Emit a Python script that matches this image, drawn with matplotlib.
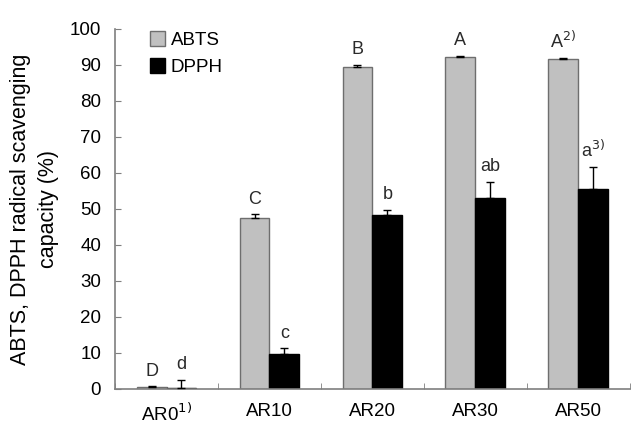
import matplotlib.pyplot as plt
import numpy as np

plt.rcParams['font.family'] = ['Liberation Sans', 'DejaVu Sans']

# data
groups = ['AR0$^{1)}$', 'AR10', 'AR20', 'AR30', 'AR50']
abts = [0.5, 47.5, 89.5, 92.3, 91.6]
abts_err = [0.3, 1.0, 0.5, 0.3, 0.3]
dpph = [0.3, 9.8, 48.3, 53.0, 55.5]
dpph_err = [2.3, 1.5, 1.5, 4.5, 6.0]
abts_letters = ['D', 'C', 'B', 'A', 'A$^{2)}$']
dpph_letters = ['d', 'c', 'b', 'ab', 'a$^{3)}$']

fig = plt.figure(figsize=(6.36, 4.25), dpi=100)
ax = fig.add_axes([0.181, 0.085, 0.809, 0.847])

x = np.arange(len(groups))
w = 0.29
spine_col = '#7f7f7f'

ax.bar(x - w / 2, abts, w, color='#c0c0c0', edgecolor='#6e6e6e', linewidth=1.0,
       label='ABTS', zorder=2)
ax.bar(x + w / 2, dpph, w, color='black', edgecolor='black', linewidth=1.0,
       label='DPPH', zorder=2)
ax.errorbar(x - w / 2, abts, yerr=[np.zeros(len(abts)), abts_err], fmt='none',
            ecolor='black', elinewidth=1, capsize=3, capthick=1, zorder=3)
ax.errorbar(x + w / 2, dpph, yerr=[np.zeros(len(dpph)), dpph_err], fmt='none',
            ecolor='black', elinewidth=1, capsize=3, capthick=1, zorder=3)

for i in range(len(groups)):
    ax.text(x[i] - w / 2, abts[i] + abts_err[i] + 1.8, abts_letters[i],
            ha='center', va='bottom', fontsize=13, color='#2a2a2a')
    ax.text(x[i] + w / 2, dpph[i] + dpph_err[i] + 1.8, dpph_letters[i],
            ha='center', va='bottom', fontsize=13, color='#2a2a2a')

ax.set_xlim(-0.5, len(groups) - 0.5)
ax.set_ylim(0, 100)
ax.set_yticks(np.arange(0, 101, 10))
ax.set_xticks(x)
ax.set_xticklabels(groups)
ax.set_xticks(np.arange(-0.5, len(groups)), minor=True)
ax.tick_params(axis='x', which='major', length=0, pad=10, labelsize=13.5)
ax.tick_params(axis='x', which='minor', direction='in', length=4, color=spine_col)
ax.tick_params(axis='y', direction='in', length=4, color=spine_col, labelsize=13.5, pad=10)

for s in ['top', 'right']:
    ax.spines[s].set_visible(False)
for s in ['left', 'bottom']:
    ax.spines[s].set_color(spine_col)
    ax.spines[s].set_linewidth(1.2)

ax.set_ylabel('ABTS, DPPH radical scavenging\ncapacity (%)', fontsize=15.5,
              labelpad=8, linespacing=1.4)

ax.legend(loc='upper left', bbox_to_anchor=(0.035, 1.04), frameon=False, fontsize=13.5,
          handlelength=0.8, handleheight=0.8, handletextpad=0.3, labelspacing=0.5)

fig.savefig('out.png', dpi=100)
